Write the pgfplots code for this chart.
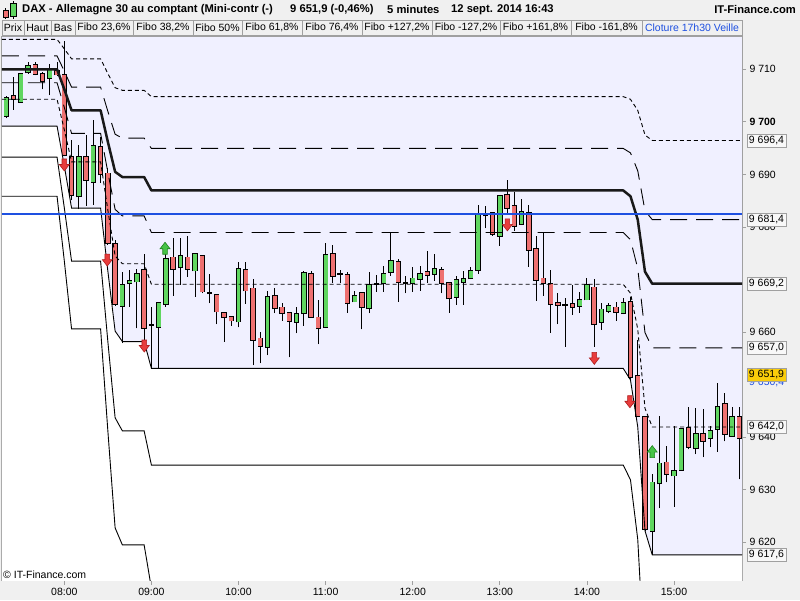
\documentclass[border=0pt]{standalone}
\usepackage{pgfplots}
\usepackage{pgfplotstable}
\pgfplotsset{compat=1.18}
\usepackage{fontspec}
\setmainfont{Liberation Sans}
\definecolor{bggray}{RGB}{240,240,240}
\definecolor{lav}{RGB}{240,240,255}
\definecolor{bordergray}{RGB}{160,160,160}
\definecolor{cgreen}{RGB}{96,214,96}
\definecolor{cred}{RGB}{238,112,112}
\definecolor{bline}{RGB}{30,80,225}
\definecolor{ybox}{RGB}{250,205,10}
\definecolor{arrred}{RGB}{232,60,60}
\definecolor{arrredd}{RGB}{175,30,30}
\definecolor{arrgreen}{RGB}{70,195,70}
\definecolor{arrgreend}{RGB}{30,130,30}
\definecolor{thickc}{RGB}{25,25,25}

\pgfplotstableread{
t lo bl bh hi
440 9700.7 9701.1 9704.5 9704.9
450 9703.6 9703.8 9709.1 9709.3
455 9709.2 9709.4 9710.6 9711.3
470 9705.1 9708.3 9709.9 9711.1
490 9683.4 9685.8 9693.4 9695.6
500 9684.2 9688.6 9695.4 9700.4
520 9657.9 9665.0 9669.0 9671.5
525 9664.8 9669.3 9669.8 9671.8
530 9660.7 9669.6 9671.1 9672.1
545 9653.1 9660.9 9665.5 9665.5
550 9664.8 9665.3 9674.0 9676.3
560 9669.0 9672.3 9674.5 9677.9
570 9666.7 9671.7 9674.8 9674.8
600 9660.9 9662.0 9672.0 9673.4
620 9655.6 9657.2 9666.7 9667.8
640 9659.8 9661.9 9663.4 9664.7
645 9661.2 9663.6 9671.3 9671.7
660 9660.9 9660.9 9674.7 9676.9
680 9665.8 9665.8 9666.9 9667.8
690 9663.6 9664.5 9668.9 9671.4
700 9667.7 9669.3 9671.0 9672.6
705 9670.7 9671.4 9673.5 9678.8
720 9667.7 9669.3 9670.2 9672.4
725 9667.9 9670.1 9671.0 9672.6
735 9669.8 9671.1 9672.0 9674.9
750 9665.2 9666.7 9669.9 9670.7
755 9665.2 9669.5 9670.1 9671.7
760 9670.2 9670.2 9671.6 9672.4
765 9671.1 9671.8 9682.4 9684.2
780 9676.4 9678.3 9685.9 9685.9
795 9680.5 9680.5 9682.8 9685.3
835 9663.7 9665.0 9666.1 9667.7
840 9666.2 9666.2 9668.9 9670.2
850 9660.4 9661.9 9664.3 9665.5
855 9663.6 9664.0 9665.0 9665.5
865 9663.6 9663.6 9665.5 9666.5
885 9617.6 9622.2 9631.4 9633.0
890 9626.5 9631.2 9635.0 9644.0
900 9626.8 9632.7 9633.6 9642.1
905 9633.8 9633.8 9641.5 9641.7
915 9636.8 9637.9 9640.7 9645.5
925 9638.1 9639.8 9641.2 9642.2
930 9637.2 9641.6 9645.8 9650.4
940 9640.2 9640.2 9643.8 9645.8
}\greentab

\pgfplotstableread{
t lo bl bh hi
445 9702.3 9704.3 9704.9 9708.5
460 9708.9 9709.1 9710.8 9711.3
465 9706.2 9707.8 9709.2 9709.5
475 9708.7 9709.0 9709.7 9711.3
480 9693.5 9693.7 9709.0 9715.4
485 9685.1 9686.1 9693.4 9696.5
495 9684.0 9688.9 9693.3 9697.5
505 9688.4 9690.0 9695.3 9697.2
510 9676.6 9676.9 9690.2 9691.2
515 9665.0 9665.3 9676.7 9677.5
535 9657.9 9660.8 9671.8 9674.9
540 9653.1 9661.4 9661.4 9664.8
555 9666.9 9672.0 9674.2 9677.9
565 9670.5 9672.0 9674.2 9678.3
575 9667.4 9667.7 9674.5 9674.7
580 9665.5 9667.4 9667.4 9671.1
585 9661.5 9663.9 9667.1 9667.1
590 9658.2 9662.8 9663.7 9663.7
595 9661.2 9662.2 9662.9 9662.9
605 9665.4 9667.9 9671.8 9673.4
610 9653.7 9658.5 9668.3 9670.1
615 9654.1 9657.4 9658.8 9660.0
625 9663.6 9664.5 9666.9 9668.3
630 9662.2 9663.6 9664.7 9665.5
635 9655.2 9662.1 9663.7 9663.7
650 9662.9 9662.9 9671.1 9671.6
655 9657.7 9660.7 9662.8 9666.1
665 9669.4 9670.7 9674.8 9676.6
670 9669.3 9671.1 9671.1 9671.8
675 9663.7 9665.5 9670.9 9671.5
685 9660.5 9664.7 9667.4 9667.6
695 9667.7 9669.2 9669.2 9670.8
710 9665.8 9669.5 9673.3 9674.0
715 9667.4 9669.4 9669.4 9670.7
730 9669.4 9670.9 9671.4 9675.4
740 9667.4 9669.4 9671.8 9672.4
745 9663.7 9666.4 9669.3 9669.3
770 9679.8 9682.2 9682.2 9684.0
775 9678.3 9678.6 9682.6 9682.6
785 9682.6 9683.6 9686.1 9688.9
790 9679.3 9680.2 9684.0 9686.7
800 9672.4 9675.6 9682.6 9684.2
805 9666.0 9669.9 9675.8 9678.2
810 9666.9 9669.3 9670.2 9678.8
815 9659.9 9665.3 9669.1 9671.8
820 9661.5 9665.2 9665.5 9667.4
825 9657.2 9665.2 9665.2 9666.4
830 9663.3 9664.8 9665.3 9669.0
845 9657.2 9661.5 9668.5 9670.1
860 9662.2 9663.8 9664.7 9665.8
870 9650.9 9651.4 9665.8 9666.7
875 9643.9 9644.0 9651.7 9658.5
880 9622.2 9622.5 9643.8 9643.8
895 9631.4 9633.0 9635.2 9638.3
910 9637.7 9638.2 9641.7 9645.7
920 9636.2 9639.3 9640.6 9645.3
935 9639.2 9640.6 9646.3 9648.5
945 9632.0 9639.8 9643.9 9645.8
}\redtab

\pgfdeclareplotmark{dnarrow}{%
  \pgfpathmoveto{\pgfpoint{-2.3pt}{6pt}}%
  \pgfpathlineto{\pgfpoint{2.3pt}{6pt}}%
  \pgfpathlineto{\pgfpoint{2.3pt}{0.5pt}}%
  \pgfpathlineto{\pgfpoint{5pt}{0.5pt}}%
  \pgfpathlineto{\pgfpoint{0pt}{-6pt}}%
  \pgfpathlineto{\pgfpoint{-5pt}{0.5pt}}%
  \pgfpathlineto{\pgfpoint{-2.3pt}{0.5pt}}%
  \pgfpathclose
  \pgfusepathqfillstroke}
\pgfdeclareplotmark{uparrow}{%
  \pgfpathmoveto{\pgfpoint{-2.3pt}{-6pt}}%
  \pgfpathlineto{\pgfpoint{2.3pt}{-6pt}}%
  \pgfpathlineto{\pgfpoint{2.3pt}{-0.5pt}}%
  \pgfpathlineto{\pgfpoint{5pt}{-0.5pt}}%
  \pgfpathlineto{\pgfpoint{0pt}{6pt}}%
  \pgfpathlineto{\pgfpoint{-5pt}{-0.5pt}}%
  \pgfpathlineto{\pgfpoint{-2.3pt}{-0.5pt}}%
  \pgfpathclose
  \pgfusepathqfillstroke}

\pgfplotsset{
  nomk/.style={only marks, mark=*, mark size=0pt, mark options={draw=none, fill=none}, forget plot},
  wick/.style={nomk,
    error bars/.cd, y dir=plus, y explicit, error mark=none,
    error bar style={draw=black, solid, line width=0.9pt}},
  bodyout/.style={nomk,
    error bars/.cd, y dir=plus, y explicit, error mark=none,
    error bar style={draw=black, solid, line width=5.4pt}},
  bodyin/.style={nomk,
    error bars/.cd, y dir=plus, y explicit, error mark=none,
    error bar style={draw=#1, solid, line width=3.8pt}},
  sdash/.style={black, line width=0.9pt, dash pattern=on 4pt off 3pt},
  ldash/.style={black, line width=0.9pt, dash pattern=on 17pt off 9pt},
  solidl/.style={black, line width=0.9pt},
}

\newcommand{\tfont}{\fontsize{10.5}{12}\selectfont}
\newcommand{\hfont}{\fontsize{11.2}{13}\selectfont\bfseries}

\begin{document}
\begin{tikzpicture}[x=1pt,y=1pt]
\useasboundingbox (0,0) rectangle (800,600);
\fill[bggray] (0,0) rectangle (800,600);

% header icon
\draw[black, line width=0.6pt] (5.5,581) -- (5.5,592);
\draw[black, fill=cred, line width=0.6pt] (3,583) rectangle (8,590);
\draw[black, line width=0.6pt] (13,581) -- (13,599);
\draw[black, fill=cgreen, line width=0.6pt] (10,584) rectangle (16,597);

% header texts
\node[anchor=west, inner sep=0, font=\hfont] at (22,590) {DAX - Allemagne 30 au comptant (Mini-contr (-)};
\node[anchor=west, inner sep=0, font=\hfont] at (290,590) {9 651,9 (-0,46\%)};
\node[anchor=west, inner sep=0, font=\hfont] at (387,590) {5 minutes};
\node[anchor=west, inner sep=0, font=\hfont] at (451,590) {12 sept. 2014 16:43};
\node[anchor=east, inner sep=0, font=\hfont] at (796,590) {IT-Finance.com};

% buttons
\begin{scope}[every node/.style={font=\tfont, inner sep=0}]
\draw[bordergray, fill=bggray] (2,565) rectangle (24,580);   \node at (13,572.5) {Prix};
\draw[bordergray, fill=bggray] (24,565) rectangle (51,580);  \node at (37.5,572.5) {Haut};
\draw[bordergray, fill=bggray] (51,565) rectangle (75,580);  \node at (63,572.5) {Bas};
\draw[bordergray, fill=bggray] (75,565) rectangle (133,580); \node at (104,572.5) {Fibo 23,6\%};
\draw[bordergray, fill=bggray] (133,565) rectangle (193,580);\node at (163,572.5) {Fibo 38,2\%};
\draw[bordergray, fill=bggray] (193,565) rectangle (242,580);\node at (217.5,572.5) {Fibo 50\%};
\draw[bordergray, fill=bggray] (242,565) rectangle (302,580);\node at (272,572.5) {Fibo 61,8\%};
\draw[bordergray, fill=bggray] (302,565) rectangle (362,580);\node at (332,572.5) {Fibo 76,4\%};
\draw[bordergray, fill=bggray] (362,565) rectangle (432,580);\node at (397,572.5) {Fibo +127,2\%};
\draw[bordergray, fill=bggray] (432,565) rectangle (500,580);\node at (466,572.5) {Fibo -127,2\%};
\draw[bordergray, fill=bggray] (500,565) rectangle (571,580);\node at (535.5,572.5) {Fibo +161,8\%};
\draw[bordergray, fill=bggray] (571,565) rectangle (642,580);\node at (606.5,572.5) {Fibo -161,8\%};
\draw[bordergray, fill=bggray] (642,565) rectangle (742,580);\node[text=bline] at (692,572.5) {Cloture 17h30 Veille};
\end{scope}

\begin{axis}[
  at={(2pt,19pt)}, anchor=south west,
  scale only axis, width=740pt, height=544pt,
  xmin=437.08, xmax=946.83, ymin=9612.64, ymax=9716.15,
  axis background/.style={fill=lav},
  axis line style={draw=bordergray, line width=1pt},
  tick align=outside, major tick length=4pt,
  tick style={draw=bordergray, line width=0.8pt},
  xtick pos=bottom, ytick pos=right, yticklabel pos=right,
  xtick={480,540,600,660,720,780,840,900},
  xticklabels={08:00,09:00,10:00,11:00,12:00,13:00,14:00,15:00},
  ytick={9620,9630,9640,9660,9680,9690,9700,9710},
  yticklabels={9 620,9 630,9 640,9 660,9 680,9 690,\textbf{9 700},9 710},
  xticklabel style={font=\tfont},
  yticklabel style={font=\tfont},
]
% white area below the running low
\addplot[fill=white, draw=none, forget plot] coordinates {
 (437.08,9600) (437.08,9699.2) (475,9699.2) (480,9691.6) (485,9683.6) (505,9683.6) (510,9671.6) (515,9660.2) (520,9658.2) (535,9658.2) (540,9653.1) (865,9653.1) (870,9650.9) (875,9642.0) (880,9622.2) (885,9617.6) (946.83,9617.6) (946.83,9600)};

% candles
\addplot[wick] table[x=t, y=lo, y error plus expr=\thisrow{hi}-\thisrow{lo}] {\greentab};
\addplot[wick] table[x=t, y=lo, y error plus expr=\thisrow{hi}-\thisrow{lo}] {\redtab};
\addplot[bodyout] table[x=t, y expr=\thisrow{bl}-0.16, y error plus expr=\thisrow{bh}-\thisrow{bl}+0.32] {\greentab};
\addplot[bodyout] table[x=t, y expr=\thisrow{bl}-0.16, y error plus expr=\thisrow{bh}-\thisrow{bl}+0.32] {\redtab};
\addplot[bodyin=cgreen] table[x=t, y=bl, y error plus expr=\thisrow{bh}-\thisrow{bl}] {\greentab};
\addplot[bodyin=cred] table[x=t, y=bl, y error plus expr=\thisrow{bh}-\thisrow{bl}] {\redtab};

% Fibonacci levels
\addplot[sdash] coordinates {(437.08,9715.7) (475,9715.7) (480,9713.9) (485,9712.0) (505,9712.0) (510,9709.2) (515,9706.5) (520,9706.0) (535,9706.0) (540,9704.8) (865,9704.8) (870,9704.3) (875,9702.2) (880,9697.5) (885,9696.45) (946.83,9696.45)};
\addplot[ldash] coordinates {(437.08,9712.55) (475,9712.55) (480,9709.65) (485,9706.6) (505,9706.6) (510,9702.0) (515,9697.65) (520,9696.9) (535,9696.9) (540,9694.95) (865,9694.95) (870,9694.1) (875,9690.7) (880,9683.1) (885,9681.4) (946.83,9681.4)};
\addplot[ldash] coordinates {(437.08,9707.45) (475,9707.45) (480,9702.75) (485,9697.8) (505,9697.8) (510,9690.4) (515,9683.35) (520,9682.1) (535,9682.1) (540,9678.95) (865,9678.95) (870,9677.6) (875,9672.1) (880,9659.9) (885,9657.0) (946.83,9657.0)};
\addplot[sdash] coordinates {(437.08,9704.3) (475,9704.3) (480,9698.5) (485,9692.4) (505,9692.4) (510,9683.2) (515,9674.5) (520,9673.0) (535,9673.0) (540,9669.1) (865,9669.1) (870,9667.4) (875,9660.6) (880,9645.5) (885,9641.95) (946.83,9641.95)};
\addplot[solidl] coordinates {(437.08,9699.2) (475,9699.2) (480,9691.6) (485,9683.6) (505,9683.6) (510,9671.6) (515,9660.2) (520,9658.2) (535,9658.2) (540,9653.1) (865,9653.1) (870,9650.9) (875,9642.0) (880,9622.2) (885,9617.6) (946.83,9617.6)};
\addplot[solidl] coordinates {(437.08,9693.3) (475,9693.3) (480,9683.65) (485,9673.5) (505,9673.5) (510,9658.2) (515,9643.7) (520,9641.2) (535,9641.2) (540,9634.7) (865,9634.7) (870,9631.9) (875,9620.6) (880,9595.4) (885,9589.5) (946.83,9589.5)};
\addplot[solidl] coordinates {(437.08,9685.85) (475,9685.85) (480,9673.55) (485,9660.6) (505,9660.6) (510,9641.2) (515,9622.75) (520,9619.5) (535,9619.5) (540,9611.25) (865,9611.25) (870,9607.7) (875,9593.3) (880,9561.3) (885,9553.8) (946.83,9553.8)};
\addplot[thickc, line width=2.5pt, line join=round] coordinates {(437.08,9710.0) (475,9710.0) (480,9706.2) (485,9702.2) (505,9702.2) (510,9696.2) (515,9690.5) (520,9689.5) (535,9689.5) (540,9686.95) (865,9686.95) (870,9685.85) (875,9681.4) (880,9671.5) (885,9669.2) (946.83,9669.2)};

% previous close
\addplot[bline, line width=1.8pt] coordinates {(437.08,9682.5) (946.83,9682.5)};

% signals
\addplot[only marks, mark=dnarrow, mark options={fill=arrred, draw=arrredd, line width=0.6pt, solid}] coordinates {(480,9691.8) (509.6,9673.7) (535.1,9657.35) (785.2,9680.4) (845.1,9655.0) (869.6,9646.75)};
\addplot[only marks, mark=uparrow, mark options={fill=arrgreen, draw=arrgreend, line width=0.6pt, solid}] coordinates {(549.4,9675.95) (885,9637.25)};

\coordinate (v1) at (axis cs:946.83,9696.4);
\coordinate (v2) at (axis cs:946.83,9681.4);
\coordinate (v3) at (axis cs:946.83,9669.2);
\coordinate (v4) at (axis cs:946.83,9657.0);
\coordinate (v5) at (axis cs:946.83,9651.9);
\coordinate (v6) at (axis cs:946.83,9650.4);
\coordinate (v7) at (axis cs:946.83,9642.0);
\coordinate (v8) at (axis cs:946.83,9617.6);
\end{axis}

\node[anchor=west, inner sep=0, font=\tfont, text=bline] at ([xshift=7pt]v6) {9 650,4};
\begin{scope}[every node/.style={draw=bordergray, fill=bggray!50!white, minimum width=38.4pt, minimum height=13.3pt, inner sep=0, font=\tfont, xshift=24.5pt}]
\node at (v1) {9 696,4};
\node at (v2) {9 681,4};
\node at (v3) {9 669,2};
\node at (v4) {9 657,0};
\node at (v7) {9 642,0};
\node at (v8) {9 617,6};
\node[fill=ybox] at (v5) {9 651,9};
\end{scope}

\node[anchor=west, inner sep=0, font=\tfont] at (3,25) {© IT-Finance.com};
\end{tikzpicture}
\end{document}
